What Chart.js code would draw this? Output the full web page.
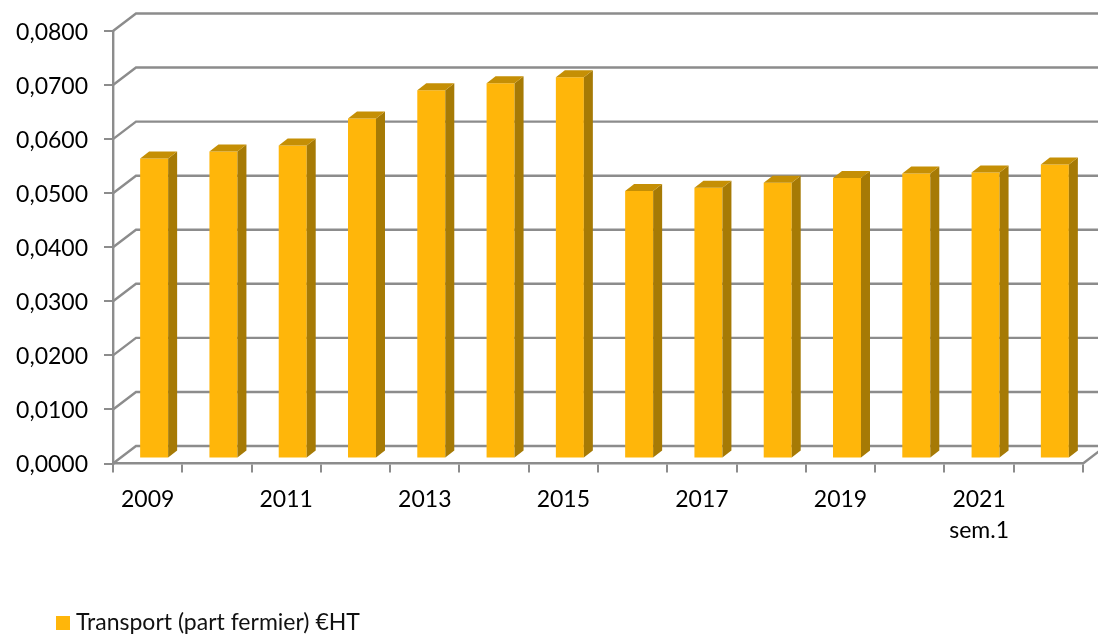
<!DOCTYPE html>
<html>
<head>
<meta charset="utf-8">
<script src="https://cdn.jsdelivr.net/npm/chart.js@4/dist/chart.umd.min.js"></script>
<style>html,body{margin:0;padding:0;background:#fff}canvas{display:block}</style>
</head>
<body>
<canvas id="c" width="1098" height="635"></canvas>
<script>
const categories = ['2009','2010','2011','2012','2013','2014','2015','2016','2017','2018','2019','2020','2021','2022'];
const tickLabels = ['2009','','2011','','2013','','2015','','2017','','2019','',['2021','sem.1'],''];
const seriesName = 'Transport (part fermier) €HT';
const seriesValues = [0.0555,0.0568,0.0579,0.0629,0.0681,0.0694,0.0705,0.0495,0.0501,0.0510,0.0519,0.0527,0.0529,0.0544];
const GRID='#8c8c8c', FRONT='#FFB60A', SIDE='#A67A05', TOP='#C58F05';
const wall={dx:23,dy:-17.5}, barShift={dx:6.5,dy:-5}, depth={dx:9,dy:-7};

const threeD={
  id:'threeD',
  afterLayout(chart){
    chart.legend.left=56;
    chart.legend.top=606;
  },
  beforeDatasetsDraw(chart){
    const {ctx,chartArea:a,scales:{y}}=chart;
    ctx.save();
    ctx.strokeStyle=GRID; ctx.lineWidth=2.4; ctx.lineCap='butt';
    y.ticks.forEach(t=>{
      const p=y.getPixelForValue(t.value);
      ctx.beginPath();
      ctx.moveTo(a.left,p);
      ctx.lineTo(a.left+wall.dx,p+wall.dy);
      ctx.lineTo(a.right+wall.dx,p+wall.dy);
      ctx.stroke();
    });
    const p0=y.getPixelForValue(0);
    ctx.beginPath();ctx.moveTo(a.right,p0);ctx.lineTo(a.right+wall.dx,p0+wall.dy);ctx.stroke();
    ctx.translate(barShift.dx,barShift.dy);
  },
  afterDatasetsDraw(chart){
    const {ctx}=chart;
    chart.getDatasetMeta(0).data.forEach(b=>{
      const l=b.x-b.width/2,r=b.x+b.width/2,t=b.y,bo=b.base;
      ctx.fillStyle=SIDE;
      ctx.beginPath();ctx.moveTo(r,t);ctx.lineTo(r+depth.dx,t+depth.dy);ctx.lineTo(r+depth.dx,bo+depth.dy);ctx.lineTo(r,bo);ctx.closePath();ctx.fill();
      ctx.fillStyle=TOP;
      ctx.beginPath();ctx.moveTo(l,t);ctx.lineTo(l+depth.dx,t+depth.dy);ctx.lineTo(r+depth.dx,t+depth.dy);ctx.lineTo(r,t);ctx.closePath();ctx.fill();
    });
    ctx.restore();
  }
};

new Chart(document.getElementById('c'),{
  type:'bar',
  data:{labels:categories,datasets:[{label:seriesName,data:seriesValues,backgroundColor:FRONT,borderWidth:0,clip:false,barPercentage:1,categoryPercentage:0.404}]},
  plugins:[threeD],
  options:{
    responsive:false,animation:false,
    layout:{padding:{left:0,right:15,top:31,bottom:0}},
    plugins:{
      tooltip:{enabled:false},
      legend:{position:'bottom',align:'start',labels:{usePointStyle:true,pointStyle:'rect',boxWidth:3,boxHeight:14,padding:5.5,color:'#111',font:{family:'Lato',size:23}}}
    },
    scales:{
      x:{
        afterFit(s){s.height=133;},
        grid:{offset:true,drawOnChartArea:false,drawTicks:true,tickLength:9,color:GRID,lineWidth:2},
        border:{display:true,color:GRID,width:2.4},
        ticks:{autoSkip:false,maxRotation:0,minRotation:0,padding:11,color:'#000',font:{family:'Lato',size:23,lineHeight:1.36},callback:(v,i)=>tickLabels[i]}
      },
      y:{
        min:0,max:0.08,
        afterFit(s){s.width=113;},
        grid:{drawOnChartArea:false,drawTicks:true,tickLength:9,color:GRID,lineWidth:2},
        border:{display:true,color:GRID,width:2.4},
        ticks:{stepSize:0.01,padding:16,labelOffset:1.5,color:'#000',font:{family:'Lato',size:23},callback:v=>v.toFixed(4).replace('.',',')}
      }
    }
  }
});
</script>
</body>
</html>
